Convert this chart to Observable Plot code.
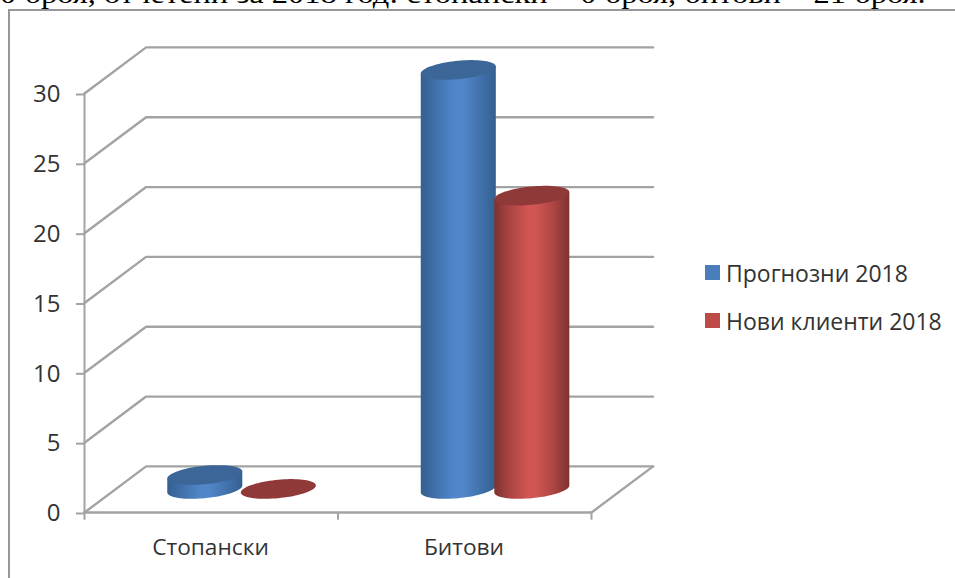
<!DOCTYPE html>
<html>
<head>
<meta charset="utf-8">
<script src="https://cdn.jsdelivr.net/npm/d3@7"></script>
<script src="https://cdn.jsdelivr.net/npm/@observablehq/plot@0.6"></script>
<style>
html,body{margin:0;padding:0;background:#fff;width:955px;height:578px;overflow:hidden;position:relative}
#clip{position:absolute;left:0;top:-21px;white-space:nowrap;font:27px "Liberation Serif",serif;color:#000;transform:scaleX(1.204);transform-origin:0 0}
#frame{position:absolute;left:8px;top:9px;width:1000px;height:800px;border:2.5px solid #989898}
#chart{position:absolute;left:0;top:0}
.leg{position:absolute;left:705px;font:23px "Open Sans",sans-serif;color:#333;white-space:nowrap;line-height:24px;height:24px}
.leg i{position:absolute;left:0;top:4px;width:15px;height:15px}
.leg span{position:absolute;left:21px;top:0}
</style>
</head>
<body>
<div id="clip">0 броя, отчетени за 2018 год: стопански – 0 броя, битови – 21 броя.</div>
<div id="frame"></div>
<div id="chart"></div>
<div class="leg" style="top:261px"><i style="background:#4a7ebb"></i><span>Прогнозни 2018</span></div>
<div class="leg" style="top:309px"><i style="background:#be4b48"></i><span>Нови клиенти 2018</span></div>
<script>
const categories = ["Стопански", "Битови"];
const forecast = [1, 30];
const newClients = [0, 21];
const yTicks = [0, 5, 10, 15, 20, 25, 30];
const xDividers = [0, 1, 2];

// 3D projection, in data units: how far the back wall is shifted from the front
const depthX = 0.243, depthY = 3.3;
const halfBar = 0.148, barOffset = 0.145, tilt = 0.25, minor = 0.66;

const angles = d3.range(0, 41).map(i => i / 40 * Math.PI);
const half = (cx, v, sign) => angles.map(t => ({
  x: cx + halfBar * Math.cos(t),
  y: depthY / 2 + v + tilt * Math.cos(t) + sign * minor * Math.sin(t)
}));
function ellipse(cx, v) {
  const up = half(cx, v, 1), lo = half(cx, v, -1);
  return up.map((d, i) => ({x: d.x, y1: lo[i].y, y2: d.y}));
}
function body(cx, v) {
  const lo = half(cx, 0, -1), top = half(cx, v, 0);
  return lo.map((d, i) => ({x: d.x, y1: d.y, y2: top[i].y}));
}

const grid = "#a3a3a3";
const marks = [];
// back wall lines + side diagonals
for (const t of yTicks) {
  marks.push(Plot.line([{x: 0, y: t}, {x: depthX, y: t + depthY}, {x: 2 + depthX, y: t + depthY}],
    {x: "x", y: "y", stroke: grid, strokeWidth: 2.4}));
}
// floor and front axis
marks.push(Plot.line([{x: 0, y: 0}, {x: 2, y: 0}, {x: 2 + depthX, y: depthY}], {x: "x", y: "y", stroke: grid, strokeWidth: 2.4}));
marks.push(Plot.ruleX([0], {y1: 0, y2: 30, stroke: grid, strokeWidth: 2}));
marks.push(Plot.ruleX(xDividers, {y1: 0, y2: -0.55, stroke: grid, strokeWidth: 2}));
marks.push(Plot.axisY({ticks: yTicks, tickSize: 8, tickPadding: 16, stroke: grid, strokeWidth: 2, strokeOpacity: 1,
  fontSize: 24, fontFamily: "Open Sans", fill: "#333", label: null, marginLeft: 84, dy: 1}));
marks.push(Plot.text(categories, {x: (d, i) => i + 0.497, y: -2.5, text: d => d, fontSize: 22.7, fontFamily: "Open Sans", fill: "#333"}));

// cylinders
categories.forEach((c, i) => {
  [[forecast[i], -barOffset, "blue", "#3c6698"], [newClients[i], barOffset, "red", "#8f3a38"]].forEach(([v, off, g, top]) => {
    const cx = i + 0.5 + depthX / 2 + off;
    if (v > 0) marks.push(Plot.areaY(body(cx, v), {x: "x", y1: "y1", y2: "y2", fill: `url(#${g})`}));
    marks.push(Plot.areaY(ellipse(cx, v), {x: "x", y1: "y1", y2: "y2", fill: top}));
  });
});

const plot = Plot.plot({
  width: 955, height: 578,
  marginLeft: 84, marginRight: 364, marginTop: 17, marginBottom: 66,
  style: {background: "transparent", overflow: "visible"},
  x: {type: "linear", domain: [0, 2], range: [84, 591], axis: null},
  y: {type: "linear", domain: [0, 30], range: [512, 93], axis: null},
  marks
});

const defs = d3.select(plot).insert("defs", ":first-child");
[["blue", ["#345f90", "#4273ae", "#5187ca", "#5187ca", "#4273ae", "#345f90"]],
 ["red", ["#7d3230", "#ae4644", "#d15653", "#d15653", "#ae4644", "#7d3230"]]].forEach(([id, cols]) => {
  const g = defs.append("linearGradient").attr("id", id);
  [0, 0.22, 0.45, 0.55, 0.78, 1].forEach((o, k) => g.append("stop").attr("offset", o).attr("stop-color", cols[k]));
});
document.getElementById("chart").appendChild(plot);
</script>
</body>
</html>
